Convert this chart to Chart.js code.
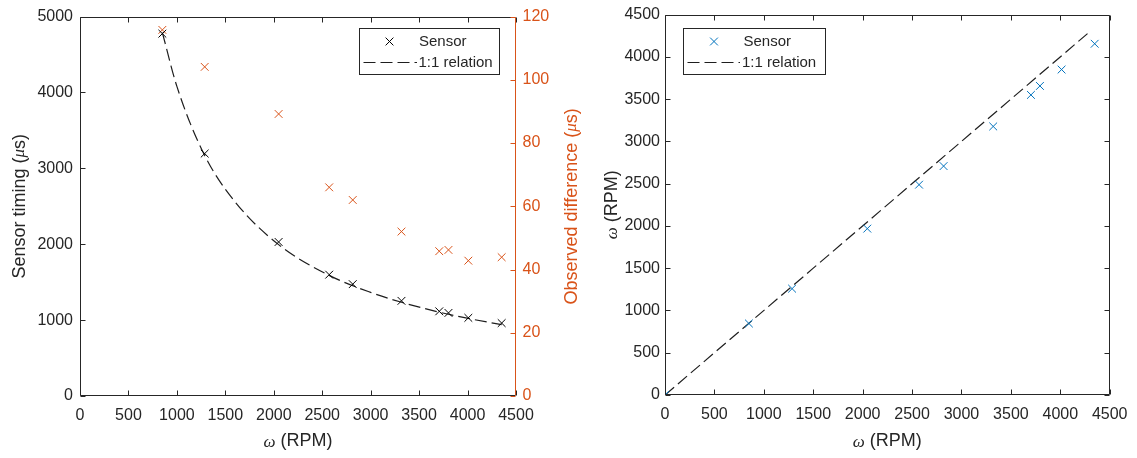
<!DOCTYPE html>
<html>
<head>
<meta charset="utf-8">
<script src="https://cdn.jsdelivr.net/npm/chart.js@4/dist/chart.umd.min.js"></script>
<style>
  html, body { margin: 0; padding: 0; background: #fff; }
  #wrap { position: relative; width: 1137px; height: 458px; overflow: hidden; }
  #timing { position: absolute; left: 0; top: 0; }
  #speed  { position: absolute; left: 600px; top: 0; }
</style>
</head>
<body>
<div id="wrap">
  <canvas id="timing" width="600" height="458"></canvas>
  <canvas id="speed" width="537" height="458"></canvas>
</div>
<script>
// ---- measured data -------------------------------------------------------
// Rotor speed set-points (RPM)
const rpm = [850, 1287, 2050, 2572, 2815, 3318, 3708, 3803, 4008, 4352];
// Time between sensor pulses (µs) at each set-point
const sensorTiming = [4775, 3195, 2030, 1599, 1474, 1254, 1116, 1095, 1030, 961];
// Difference between observed and expected timing (µs)
const observedDiff = [115.8, 104.1, 89.2, 66.0, 62.0, 52.0, 45.8, 46.2, 42.8, 43.9];
// Expected timing curve for a perfect sensor
const relationRpm    = [850, 1000, 1287, 1600, 2050, 2572, 3000, 3318, 3708, 4008, 4352];
const relationTiming = [4790, 4080, 3170, 2560, 1995, 1590, 1365, 1235, 1105, 1022, 940];
// Speed reported by the sensor against the set-point speed
const setRpm    = [0, 849, 1286, 2047, 2571, 2819, 3321, 3703, 3794, 4013, 4348];
const sensorRpm = [0, 846, 1258, 1968, 2488, 2708, 3177, 3550, 3656, 3850, 4155];
// 1:1 reference line
const identityRpm = [0, 4300];

// ---- tick labels ---------------------------------------------------------
const rpmTicks    = [0, 500, 1000, 1500, 2000, 2500, 3000, 3500, 4000, 4500];
const timingTicks = [0, 1000, 2000, 3000, 4000, 5000];
const diffTicks   = [0, 20, 40, 60, 80, 100, 120];
const speedTicks  = [0, 500, 1000, 1500, 2000, 2500, 3000, 3500, 4000, 4500];

// ---- styling -------------------------------------------------------------
const INK = '#262626';
const ORANGE = '#D95319';
const BLUE = '#0072BD';
const FONT = '"Liberation Sans", Arial, Helvetica, sans-serif';
const GREEK = '"Liberation Serif", "DejaVu Serif", serif';
const TICK_SIZE = 16;

const pts = (xs, ys) => xs.map((x, i) => ({ x, y: ys[i] }));
const fixedTicks = list => scale => { scale.ticks = list.map(v => ({ value: v })); };

function linearAxis(min, max, list, color, padding, fit, extra) {
  return Object.assign({
    type: 'linear', min, max,
    afterBuildTicks: fixedTicks(list),
    afterFit: fit,
    grid: { display: false, drawTicks: false },
    border: { display: false },
    ticks: {
      color, padding, autoSkip: false, maxRotation: 0,
      font: { family: FONT, size: TICK_SIZE },
      callback: v => String(v)
    }
  }, extra || {});
}

// Draws a label made of runs with different fonts (for italic Greek letters)
function richText(ctx, parts, x, y, rot, color) {
  ctx.save();
  ctx.translate(x, y);
  ctx.rotate(rot);
  ctx.fillStyle = color;
  ctx.textBaseline = 'middle';
  ctx.textAlign = 'left';
  let total = 0;
  const widths = parts.map(p => { ctx.font = p.font; const w = ctx.measureText(p.t).width; total += w; return w; });
  let cx = -total / 2;
  parts.forEach((p, i) => { ctx.font = p.font; ctx.fillText(p.t, cx, p.dy || 0); cx += widths[i]; });
  ctx.restore();
}

const TITLE = '18px ' + FONT;
const TITLE_GREEK = 'italic 17px ' + GREEK;
const omegaRpm = [{ t: 'ω', font: TITLE_GREEK, dy: 1 }, { t: ' (RPM)', font: TITLE }];

// Axis box with inward ticks, titles and a boxed legend
const panelPlugin = {
  id: 'panel',
  afterDraw(chart, args, o) {
    const ctx = chart.ctx;
    const a = chart.chartArea;
    const L = Math.round(a.left) + 0.5, R = Math.round(a.right) - 0.5;
    const T = Math.round(a.top) + 0.5, B = Math.round(a.bottom) - 0.5;
    ctx.save();
    ctx.lineWidth = 1;
    o.edges.forEach(e => {
      const s = chart.scales[e.scale];
      ctx.strokeStyle = e.color;
      ctx.beginPath();
      if (e.side === 'left' || e.side === 'right') {
        const x = e.side === 'left' ? L : R;
        const dir = e.side === 'left' ? 1 : -1;
        ctx.moveTo(x, T); ctx.lineTo(x, B);
        s.ticks.forEach(t => {
          const y = Math.round(s.getPixelForValue(t.value)) + 0.5;
          ctx.moveTo(x, y); ctx.lineTo(x + dir * o.tickLen, y);
        });
      } else {
        const y = e.side === 'bottom' ? B : T;
        const dir = e.side === 'bottom' ? -1 : 1;
        ctx.moveTo(L, y); ctx.lineTo(R, y);
        s.ticks.forEach(t => {
          const x = Math.round(s.getPixelForValue(t.value)) + 0.5;
          ctx.moveTo(x, y); ctx.lineTo(x, y + dir * o.tickLen);
        });
      }
      ctx.stroke();
    });

    // axis titles
    o.titles.forEach(tt => {
      const cx = tt.x !== undefined ? tt.x : (a.left + a.right) / 2;
      const cy = tt.y !== undefined ? tt.y : (a.top + a.bottom) / 2;
      richText(ctx, tt.parts, cx, cy, tt.rot || 0, tt.color);
    });

    // legend
    const lg = o.legend;
    ctx.fillStyle = '#fff';
    ctx.fillRect(lg.x, lg.y, lg.w, lg.h);
    ctx.strokeStyle = INK;
    ctx.lineWidth = 1;
    ctx.strokeRect(Math.round(lg.x) + 0.5, Math.round(lg.y) + 0.5, Math.round(lg.w), Math.round(lg.h));
    lg.rows.forEach(r => {
      const ds = chart.data.datasets[r.dataset];
      ctx.save();
      if (r.kind === 'marker') {
        const d = 3.9;
        ctx.strokeStyle = ds.borderColor;
        ctx.lineWidth = 1;
        ctx.beginPath();
        ctx.moveTo(r.mx - d, r.y - d); ctx.lineTo(r.mx + d, r.y + d);
        ctx.moveTo(r.mx - d, r.y + d); ctx.lineTo(r.mx + d, r.y - d);
        ctx.stroke();
      } else {
        ctx.strokeStyle = ds.borderColor;
        ctx.lineWidth = ds.borderWidth;
        ctx.setLineDash(ds.borderDash);
        ctx.beginPath();
        ctx.moveTo(r.x0, r.y); ctx.lineTo(r.x1, r.y);
        ctx.stroke();
      }
      ctx.restore();
      ctx.fillStyle = INK;
      ctx.font = '15px ' + FONT;
      ctx.textAlign = 'left';
      ctx.textBaseline = 'middle';
      ctx.fillText(ds.label, r.tx, r.y);
    });
    ctx.restore();
  }
};

const markerSet = (label, data, color, axis) => ({
  label, data, yAxisID: axis,
  borderColor: color, backgroundColor: color,
  pointStyle: 'crossRot', pointRadius: 5.5, pointBorderWidth: 1,
  pointHoverRadius: 5.5, showLine: false
});
const dashedSet = (label, data, axis) => ({
  label, data, yAxisID: axis,
  borderColor: '#1e1e1e', borderWidth: 1.2, borderDash: [12, 5],
  pointRadius: 0, showLine: true, fill: false,
  cubicInterpolationMode: 'monotone'
});

// ---- left panel: timing vs speed ---------------------------------------
new Chart(document.getElementById('timing'), {
  type: 'scatter',
  data: {
    datasets: [
      markerSet('Sensor', pts(rpm, sensorTiming), '#000000', 'y'),
      dashedSet('1:1 relation', pts(relationRpm, relationTiming), 'y'),
      markerSet('Observed difference', pts(rpm, observedDiff), ORANGE, 'y1')
    ]
  },
  options: {
    responsive: false, animation: false, events: [],
    layout: { padding: { top: 12, left: 0, right: 0, bottom: 0 } },
    scales: {
      x: linearAxis(0, 4500, rpmTicks, INK, 9.5, s => { s.height = 62; }),
      y: linearAxis(0, 5000, timingTicks, INK, 7, s => { s.width = 80; }, { position: 'left' }),
      y1: linearAxis(0, 120, diffTicks, ORANGE, 6.5, s => { s.width = 84; }, { position: 'right' })
    },
    plugins: {
      legend: { display: false },
      tooltip: { enabled: false },
      panel: {
        tickLen: 5,
        edges: [
          { side: 'left', scale: 'y', color: INK },
          { side: 'bottom', scale: 'x', color: INK },
          { side: 'top', scale: 'x', color: INK },
          { side: 'right', scale: 'y1', color: ORANGE }
        ],
        titles: [
          { parts: omegaRpm, y: 441.5, color: INK },
          { parts: [{ t: 'Sensor timing (', font: TITLE }, { t: 'μ', font: TITLE_GREEK }, { t: 's)', font: TITLE }],
            x: 20, rot: -Math.PI / 2, color: INK },
          { parts: [{ t: 'Observed difference (', font: TITLE }, { t: 'μ', font: TITLE_GREEK }, { t: 's)', font: TITLE }],
            x: 572, rot: -Math.PI / 2, color: ORANGE }
        ],
        legend: {
          x: 359, y: 28, w: 140, h: 46,
          rows: [
            { kind: 'marker', dataset: 0, mx: 389.5, tx: 419, y: 41.5 },
            { kind: 'line', dataset: 1, x0: 363.5, x1: 417, tx: 418.5, y: 62.5 }
          ]
        }
      }
    }
  },
  plugins: [panelPlugin]
});

// ---- right panel: sensor speed vs set speed ----------------------------
new Chart(document.getElementById('speed'), {
  type: 'scatter',
  data: {
    datasets: [
      markerSet('Sensor', pts(setRpm, sensorRpm), BLUE, 'y'),
      dashedSet('1:1 relation', pts(identityRpm, identityRpm), 'y')
    ]
  },
  options: {
    responsive: false, animation: false, events: [],
    layout: { padding: { top: 13, left: 0, right: 24.5, bottom: 0 } },
    scales: {
      x: linearAxis(0, 4500, rpmTicks, INK, 9.5, s => { s.height = 63; }),
      y: linearAxis(0, 4500, speedTicks, INK, 5, s => { s.width = 65; }, { position: 'left' })
    },
    plugins: {
      legend: { display: false },
      tooltip: { enabled: false },
      panel: {
        tickLen: 5,
        edges: [
          { side: 'left', scale: 'y', color: INK },
          { side: 'right', scale: 'y', color: INK },
          { side: 'bottom', scale: 'x', color: INK },
          { side: 'top', scale: 'x', color: INK }
        ],
        titles: [
          { parts: omegaRpm, y: 441.5, color: INK },
          { parts: omegaRpm, x: 12, rot: -Math.PI / 2, color: INK }
        ],
        legend: {
          x: 82.5, y: 28, w: 141.5, h: 46,
          rows: [
            { kind: 'marker', dataset: 0, mx: 114, tx: 143.5, y: 41.5 },
            { kind: 'line', dataset: 1, x0: 87.5, x1: 140, tx: 142, y: 62.5 }
          ]
        }
      }
    }
  },
  plugins: [panelPlugin]
});
</script>
</body>
</html>
